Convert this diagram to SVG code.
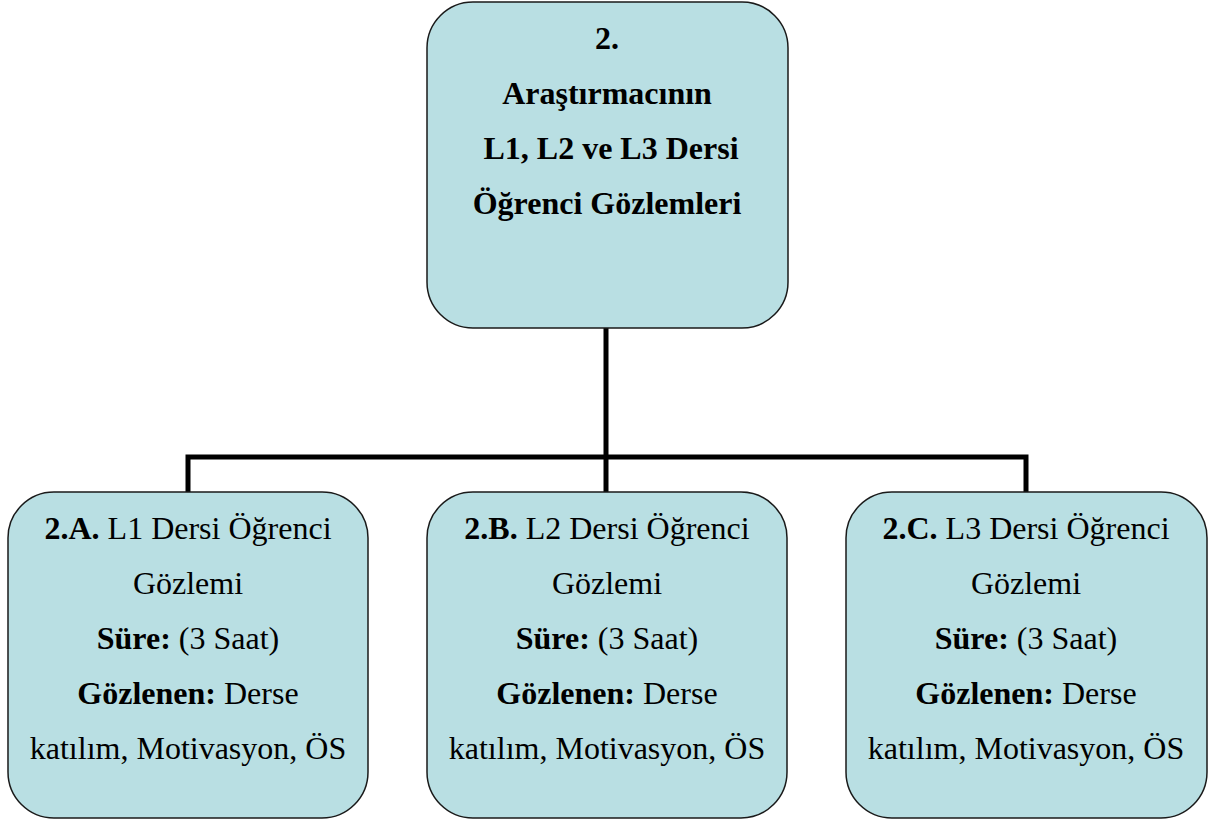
<svg xmlns="http://www.w3.org/2000/svg" width="1216" height="823" viewBox="0 0 1216 823">
<style>
.box{fill:#B9DFE3;stroke:#1a1a1a;stroke-width:1.5}
.conn{fill:none;stroke:#000;stroke-width:5;stroke-linejoin:miter}
text{font-family:"Liberation Serif","Times New Roman",serif;font-size:32px;fill:#000;text-anchor:middle}
.b{font-weight:bold}
</style>
<rect width="1216" height="823" fill="#fff"/>
<g id="connectors">
<path class="conn" d="M606 328 V457"/>
<path class="conn" d="M188 492 V457 H1026 V492"/>
<path class="conn" d="M606 457 V492"/>
</g>
<g id="node-root">
<rect class="box" x="427" y="2" width="361" height="326" rx="46" ry="46"/>
<text class="b" x="607" y="49">2.</text>
<text class="b" x="607" y="104">Araştırmacının</text>
<text class="b" x="611" y="159">L1, L2 ve L3 Dersi</text>
<text class="b" x="607" y="214">Öğrenci Gözlemleri</text>
</g>
<g id="node-2A">
<rect class="box" x="8" y="492" width="360" height="326" rx="46" ry="46"/>
<text x="188" y="539"><tspan class="b">2.A.</tspan> L1 Dersi Öğrenci</text>
<text x="188" y="594">Gözlemi</text>
<text x="188" y="649"><tspan class="b">Süre:</tspan> (3 Saat)</text>
<text x="188" y="704"><tspan class="b">Gözlenen:</tspan> Derse</text>
<text x="188" y="759">katılım, Motivasyon, ÖS</text>
</g>
<g id="node-2B">
<rect class="box" x="427" y="492" width="360" height="326" rx="46" ry="46"/>
<text x="607" y="539"><tspan class="b">2.B.</tspan> L2 Dersi Öğrenci</text>
<text x="607" y="594">Gözlemi</text>
<text x="607" y="649"><tspan class="b">Süre:</tspan> (3 Saat)</text>
<text x="607" y="704"><tspan class="b">Gözlenen:</tspan> Derse</text>
<text x="607" y="759">katılım, Motivasyon, ÖS</text>
</g>
<g id="node-2C">
<rect class="box" x="846" y="492" width="361" height="326" rx="46" ry="46"/>
<text x="1026" y="539"><tspan class="b">2.C.</tspan> L3 Dersi Öğrenci</text>
<text x="1026" y="594">Gözlemi</text>
<text x="1026" y="649"><tspan class="b">Süre:</tspan> (3 Saat)</text>
<text x="1026" y="704"><tspan class="b">Gözlenen:</tspan> Derse</text>
<text x="1026" y="759">katılım, Motivasyon, ÖS</text>
</g>
</svg>
